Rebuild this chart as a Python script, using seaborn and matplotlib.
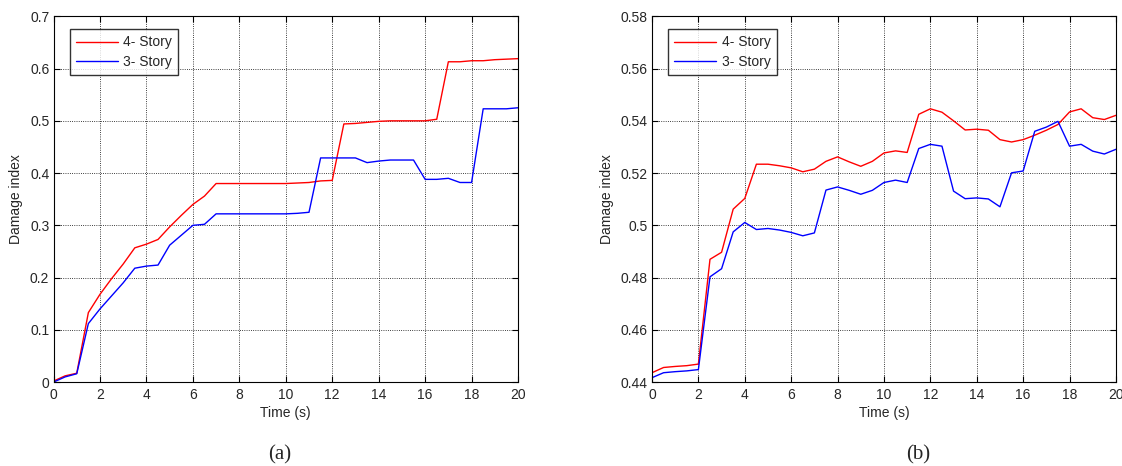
import numpy as np
import pandas as pd
import seaborn as sns
import matplotlib
matplotlib.use("Agg")
import matplotlib.pyplot as plt

# time steps (s), 0.5 s apart
time = np.arange(0, 20.5, 0.5)

# panel (a)
a_story4 = [0.002, 0.012, 0.017, 0.133, 0.168, 0.198, 0.226, 0.257, 0.264, 0.273,
            0.297, 0.319, 0.340, 0.356, 0.380, 0.380, 0.380, 0.380, 0.380, 0.380,
            0.380, 0.381, 0.382, 0.385, 0.386, 0.494, 0.495, 0.497, 0.499, 0.500,
            0.500, 0.500, 0.500, 0.503, 0.613, 0.613, 0.615, 0.615, 0.617, 0.618,
            0.619]
a_story3 = [0.000, 0.010, 0.016, 0.112, 0.140, 0.165, 0.190, 0.218, 0.222, 0.224,
            0.262, 0.281, 0.300, 0.302, 0.322, 0.322, 0.322, 0.322, 0.322, 0.322,
            0.322, 0.323, 0.325, 0.429, 0.429, 0.429, 0.429, 0.420, 0.423, 0.425,
            0.425, 0.425, 0.388, 0.388, 0.390, 0.382, 0.382, 0.523, 0.523, 0.523,
            0.525]

# panel (b)
b_story4 = [0.4436, 0.4456, 0.4460, 0.4463, 0.4469, 0.4870, 0.4897, 0.5062, 0.5103, 0.5234,
            0.5234, 0.5228, 0.5220, 0.5205, 0.5215, 0.5245, 0.5262, 0.5243, 0.5226, 0.5245,
            0.5277, 0.5285, 0.5279, 0.5425, 0.5446, 0.5433, 0.5400, 0.5365, 0.5368, 0.5364,
            0.5328, 0.5319, 0.5328, 0.5345, 0.5364, 0.5386, 0.5434, 0.5446, 0.5412, 0.5405,
            0.5421]
b_story3 = [0.4417, 0.4436, 0.4440, 0.4443, 0.4448, 0.4803, 0.4834, 0.4975, 0.5011, 0.4984,
            0.4988, 0.4982, 0.4973, 0.4960, 0.4971, 0.5135, 0.5147, 0.5134, 0.5119, 0.5134,
            0.5164, 0.5173, 0.5164, 0.5294, 0.5310, 0.5303, 0.5131, 0.5102, 0.5105, 0.5101,
            0.5071, 0.5201, 0.5208, 0.5360, 0.5376, 0.5398, 0.5303, 0.5310, 0.5284, 0.5273,
            0.5291]

labels = ["4- Story", "3- Story"]

sns.set_style("white")
plt.rcParams["font.family"] = ["Liberation Sans", "DejaVu Sans"]

fig = plt.figure(figsize=(11.22, 4.66), dpi=100)
ax_a = fig.add_axes([0.0477, 0.180, 0.414, 0.785])
ax_b = fig.add_axes([0.5811, 0.180, 0.4135, 0.785])


def draw(ax, s4, s3, ylim, yticks, yfmt):
    df = pd.DataFrame({
        "Time": np.concatenate([time, time]),
        "Damage": np.concatenate([s4, s3]),
        "Case": [labels[0]] * len(time) + [labels[1]] * len(time),
    })
    sns.lineplot(data=df, x="Time", y="Damage", hue="Case", hue_order=labels,
                 palette=["#ff0000", "#0000ff"], linewidth=1.0, ax=ax)
    ax.set_xlim(0, 20)
    ax.set_ylim(*ylim)
    ax.set_xticks(np.arange(0, 21, 2))
    ax.set_yticks(yticks)
    ax.set_yticklabels([yfmt(v) for v in yticks])
    ax.grid(True, color="black", linestyle=":", linewidth=0.6)
    ax.tick_params(direction="in", length=4, labelsize=10, top=True, right=True,
                   bottom=True, left=True, color="black")
    ax.tick_params(axis="x", pad=4)
    ax.tick_params(axis="y", pad=3)
    for s in ax.spines.values():
        s.set_color("black")
        s.set_linewidth(0.8)
    ax.set_xlabel("Time (s)", fontsize=10, labelpad=3)
    ax.set_ylabel("Damage index", fontsize=10, labelpad=5)
    leg = ax.legend(loc="upper left", bbox_to_anchor=(0.035, 0.965), fontsize=10,
                    frameon=True, fancybox=False, edgecolor="black",
                    handlelength=3.0, handletextpad=0.4, borderpad=0.45,
                    labelspacing=0.42, borderaxespad=0)
    leg.get_frame().set_linewidth(1.0)


def fmt_a(v):
    return "0" if v == 0 else f"{v:.1f}"


def fmt_b(v):
    s = f"{v:.2f}"
    return s[:-1] if s.endswith("0") else s


draw(ax_a, a_story4, a_story3, (0, 0.7), np.round(np.arange(0, 0.71, 0.1), 2), fmt_a)
draw(ax_b, b_story4, b_story3, (0.44, 0.58), np.round(np.arange(0.44, 0.581, 0.02), 2), fmt_b)

fig.text(280 / 1122, 0.0236, "(a)", ha="center", va="center", fontsize=15,
         family=["Liberation Serif", "DejaVu Serif"])
fig.text(918 / 1122, 0.0236, "(b)", ha="center", va="center", fontsize=15,
         family=["Liberation Serif", "DejaVu Serif"])

fig.savefig("out.png", dpi=100)
